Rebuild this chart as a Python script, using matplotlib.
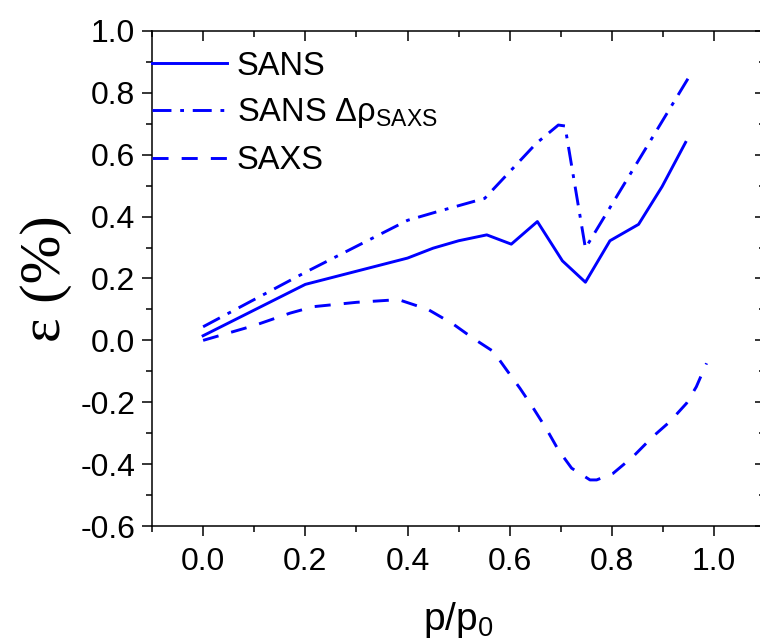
import matplotlib
matplotlib.use('Agg')
import matplotlib.pyplot as plt
from matplotlib.ticker import MultipleLocator

# values
sans_x = [0.0, 0.2, 0.4, 0.45, 0.5, 0.555, 0.603, 0.654, 0.703, 0.748, 0.796, 0.852, 0.898, 0.944]
sans_y = [0.015, 0.181, 0.266, 0.298, 0.322, 0.341, 0.311, 0.384, 0.257, 0.188, 0.322, 0.375, 0.497, 0.640]

drho_x = [0.0, 0.2, 0.4, 0.454, 0.551, 0.652, 0.695, 0.708, 0.748, 0.952]
drho_y = [0.044, 0.220, 0.388, 0.414, 0.459, 0.637, 0.696, 0.693, 0.298, 0.855]

saxs_x = [0.0, 0.1, 0.17, 0.216, 0.3, 0.366, 0.38, 0.44, 0.489, 0.528, 0.568, 0.594, 0.62,
          0.646, 0.672, 0.695, 0.721, 0.757, 0.77, 0.802, 0.841, 0.88, 0.913, 0.946, 0.965, 0.985]
saxs_y = [0.0, 0.048, 0.088, 0.109, 0.123, 0.13, 0.133, 0.10, 0.053, 0.007, -0.036, -0.096, -0.155,
          -0.219, -0.287, -0.354, -0.413, -0.451, -0.451, -0.43, -0.376, -0.311, -0.263, -0.203, -0.15, -0.074]

blue = '#0000ff'

def main():
    plt.rcParams['font.family'] = ['Liberation Sans', 'DejaVu Sans']
    plt.rcParams['mathtext.fontset'] = 'custom'
    plt.rcParams['mathtext.rm'] = 'Liberation Sans'

    fig = plt.figure(figsize=(7.6, 6.44), dpi=100)
    ax = fig.add_axes([0.2, 0.1832, 0.807, 0.7687])

    lw = 2.1
    ax.plot(sans_x, sans_y, color=blue, lw=lw, label='SANS')
    ax.plot(drho_x, drho_y, color=blue, lw=lw, dashes=(6.5, 3, 1.3, 3),
            label=r'SANS $\mathregular{\Delta\rho_{SAXS}}$')
    ax.plot(saxs_x, saxs_y, color=blue, lw=lw, dashes=(5.5, 4.5), label='SAXS')

    ax.set_xlim(-0.1, 1.1)
    ax.set_ylim(-0.6, 1.0)
    ax.xaxis.set_minor_locator(MultipleLocator(0.1))
    ax.yaxis.set_minor_locator(MultipleLocator(0.1))
    ax.set_xticks([0.0, 0.2, 0.4, 0.6, 0.8, 1.0])
    ax.set_yticks([-0.6, -0.4, -0.2, 0.0, 0.2, 0.4, 0.6, 0.8, 1.0])
    ax.xaxis.set_major_formatter(plt.FuncFormatter(lambda v, p: '%.1f' % v))
    ax.yaxis.set_major_formatter(plt.FuncFormatter(lambda v, p: '%.1f' % v))

    for s in ax.spines.values():
        s.set_linewidth(1.1)
    ax.tick_params(which='both', direction='out', width=1.1, labelsize=23,
                   top=True, right=True, pad=5)
    ax.tick_params(axis='x', which='major', pad=8)
    ax.tick_params(which='major', length=7)
    ax.tick_params(which='minor', length=4)
    # mirrored ticks on top/right point inward
    for t in ax.xaxis.get_major_ticks() + ax.xaxis.get_minor_ticks():
        t.tick2line.set_marker(matplotlib.lines.TICKDOWN)
    for t in ax.yaxis.get_major_ticks() + ax.yaxis.get_minor_ticks():
        t.tick2line.set_marker(matplotlib.lines.TICKLEFT)

    ax.set_xlabel(r'p/p$_\mathregular{0}$', fontsize=28, labelpad=17)
    ax.set_ylabel('\u03b5 (%)', fontsize=42, family='Liberation Serif', labelpad=6)

    ax.legend(loc='upper left', bbox_to_anchor=(0.0, 0.96), frameon=False,
              fontsize=23.5, handlelength=2.3, handletextpad=0.3,
              borderpad=0, borderaxespad=0, labelspacing=0.45)

    fig.savefig('out.png', dpi=100)

if __name__ == '__main__':
    main()
